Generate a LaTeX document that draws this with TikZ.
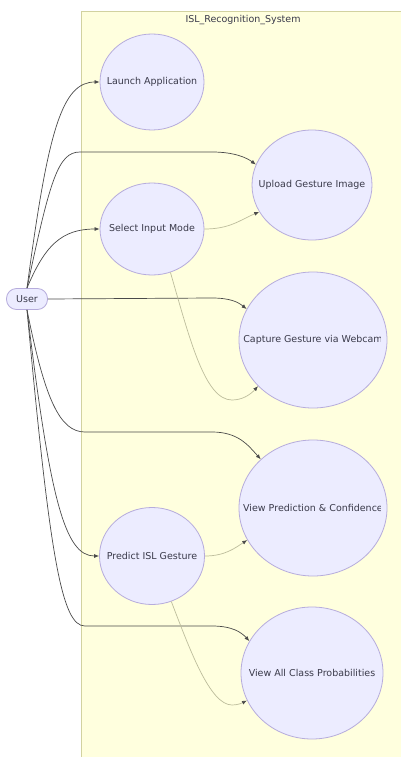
\documentclass[tikz,border=0pt]{standalone}
\usepackage{fontspec}
\setmainfont{DejaVu Sans}
\usetikzlibrary{shapes.geometric, arrows.meta, positioning}

\definecolor{caseFill}{HTML}{ECECFF}
\definecolor{caseLine}{HTML}{B6ACDC}
\definecolor{boxFill}{HTML}{FFFFDE}
\definecolor{boxLine}{HTML}{D2D2A0}
\definecolor{edgeDark}{HTML}{4A4A4A}
\definecolor{edgeLight}{HTML}{BDBD9C}
\definecolor{textGray}{HTML}{3A3A4A}

\begin{document}
\begin{tikzpicture}[
        x=1pt, y=-1pt,
        font=\fontsize{9.5}{11}\selectfont, text=textGray,
        clusterBox/.style={
            draw=boxLine, fill=boxFill, line width=1pt
        },
        useCase/.style={
            ellipse, draw=caseLine, fill=caseFill, line width=0.8pt, inner sep=0pt
        },
        caseText/.style={
            inner sep=0pt, text=textGray
        },
        actorBlock/.style={
            rectangle, rounded corners=10pt, draw=caseLine, fill=caseFill,
            line width=0.8pt, minimum width=41pt, minimum height=21pt, inner sep=0pt
        },
        userArrow/.style={
            draw=edgeDark, line width=0.7pt, -{Latex[length=5pt, width=4pt]}
        },
        linkArrow/.style={
            draw=edgeLight, line width=0.7pt, -{Latex[length=5pt, width=4pt, color=edgeDark]}
        }
    ]
        \useasboundingbox (0,0) rectangle (401,757);
        \fill[white] (0,0) rectangle (401,757);

        % System boundary
        \draw[clusterBox] (81,12) rectangle (410,770);
        \node (sysTitle) at (243,20) {ISL\_Recognition\_System};

        % Nodes
        \node (user) [actorBlock] at (27,299) {User};
        \node (launch) [useCase, minimum width=104pt, minimum height=96pt,
            label=center:Launch Application] at (152,82) {};
        \node (upload) [useCase, minimum width=120pt, minimum height=110pt,
            label=center:Upload Gesture Image] at (312,185) {};
        \node (select) [useCase, minimum width=104pt, minimum height=92pt,
            label=center:Select Input Mode] at (152,229) {};
        \node (capture) [useCase, minimum width=148pt, minimum height=136pt] at (313,340) {};
        \node (viewPred) [useCase, minimum width=148pt, minimum height=136pt] at (313,508) {};
        \node (predict) [useCase, minimum width=105pt, minimum height=97pt,
            label=center:Predict ISL Gesture] at (152,556) {};
        \node (viewAll) [useCase, minimum width=142pt, minimum height=132pt,
            label=center:View All Class Probabilities] at (312,673) {};

        % Labels cut off at the right
        \begin{scope}
            \clip (81,12) rectangle (380,757);
            \node (captureText) [caseText] at (capture) {Capture Gesture via Webcam};
            \node (viewPredText) [caseText] at (viewPred) {View Prediction \& Confidence};
        \end{scope}

        % Arrows
        \draw [userArrow] (user.north) .. controls (48,130) and (62,82) .. (launch.west);
        \draw [userArrow] (user.north) .. controls (50,180) and (58,152) .. (80,152)
            -- (212,152) .. controls (235,152) and (247,158) .. (upload.160);
        \draw [userArrow] (user.north) .. controls (45,245) and (62,229) .. (select.west);
        \draw [userArrow] (user.east) -- (212,298) .. controls (230,298) and (238,302) .. (capture.155);
        \draw [userArrow] (user.south) .. controls (45,400) and (60,432) .. (85,432)
            -- (212,432) .. controls (238,432) and (248,445) .. (viewPred.137);
        \draw [userArrow] (user.south) .. controls (50,500) and (65,556) .. (predict.west);
        \draw [userArrow] (user.south) .. controls (50,560) and (62,626) .. (85,626)
            -- (212,626) .. controls (232,626) and (241,632) .. (viewAll.153);

        \draw [linkArrow] (select.east) .. controls (230,229) and (240,220) .. (upload.207);
        \draw [linkArrow] (select.293) .. controls (190,340) and (205,400) .. (232,400)
            .. controls (242,400) and (250,395) .. (capture.220);
        \draw [linkArrow] (predict.east) .. controls (225,556) and (235,548) .. (viewPred.206);
        \draw [linkArrow] (predict.293) .. controls (190,650) and (210,705) .. (232,705)
            .. controls (238,705) and (242,703) .. (viewAll.203);
    \end{tikzpicture}
\end{document}
